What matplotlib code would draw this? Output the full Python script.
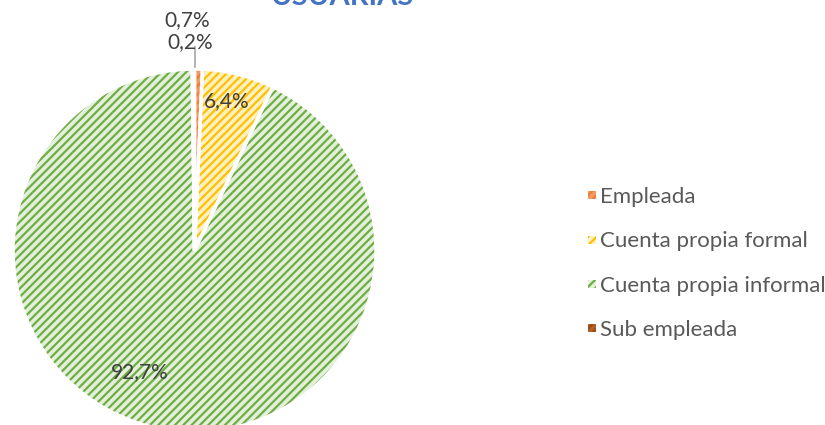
import matplotlib

matplotlib.use("Agg")
import matplotlib.pyplot as plt
from matplotlib.legend_handler import HandlerPatch
from matplotlib.patches import Patch, Rectangle

plt.rcParams["font.family"] = ["Lato", "DejaVu Sans"]
plt.rcParams["hatch.linewidth"] = 1.6

# data
categories = ["Empleada", "Cuenta propia formal", "Cuenta propia informal", "Sub empleada"]
shares = [0.7, 6.4, 92.7, 0.2]
title = "USUARIAS"

FACE = ["#F39A62", "#FFF0C4", "#E3F0DA", "#B0602A"]
HATCH = ["#ED7D31", "#FFC000", "#70AD47", "#9E480E"]

W, H = 825, 425
fig = plt.figure(figsize=(W / 100, H / 100), dpi=100)

# pie centre (194.5, 250.5) px, radius 181.5 px
cx, cy, r = 194.5, 250.5, 181.5
ax = fig.add_axes([(cx - r) / W, (H - cy - r) / H, 2 * r / W, 2 * r / H])

wedges, _ = ax.pie(
    shares,
    startangle=90,
    counterclock=False,
    colors=FACE,
    radius=1,
    wedgeprops=dict(linewidth=0),
)
for w, hc in zip(wedges, HATCH):
    w.set_edgecolor(hc)
    w.set_hatch("////")
    w.set_linewidth(0)
# white separators
ax.pie(
    shares,
    startangle=90,
    counterclock=False,
    colors=["none"] * len(shares),
    radius=1,
    wedgeprops=dict(linewidth=2.5, edgecolor="white", facecolor="none"),
)
ax.set_xlim(-1, 1)
ax.set_ylim(-1, 1)
ax.set_aspect("equal")
ax.axis("off")


def fmt(v):
    return f"{v:.1f}%".replace(".", ",")


lab_kw = dict(color="#404040", fontsize=15, ha="center", va="center", clip_on=False)
ax.text(0.179, 0.824, fmt(shares[1]), **lab_kw)
ax.text(-0.30, -0.669, fmt(shares[2]), **lab_kw)
ax.text(-0.04, 1.27, fmt(shares[0]), **lab_kw)
ax.text(-0.025, 1.149, fmt(shares[3]), **lab_kw)
ax.plot([0.0, 0.0], [1.01, 1.12], color="#A6A6A6", lw=1.2, clip_on=False)

fig.text(343 / W, 1 - 5 / H, title, ha="center", va="baseline",
         color="#4472C4", fontsize=21, fontweight="bold")


def square(legend, orig_handle, xdescent, ydescent, width, height, fontsize):
    s = 8 * 72 / 100  # 8 px in points
    return Rectangle((-xdescent + (width - s) / 2, -ydescent + (height - s) / 2), s, s)


handles = [Patch(facecolor=f, edgecolor=h, hatch="////", linewidth=0) for f, h in zip(FACE, HATCH)]
leg = fig.legend(
    handles,
    categories,
    loc="center left",
    bbox_to_anchor=(588 / W, 1 - 263.5 / H),
    frameon=False,
    fontsize=16,
    handlelength=0.36,
    handleheight=0.7,
    handletextpad=0.2,
    labelspacing=1.1,
    borderpad=0,
    borderaxespad=0,
    handler_map={Patch: HandlerPatch(patch_func=square)},
)
for t in leg.get_texts():
    t.set_color("#595959")

fig.savefig("out.png", dpi=100)
